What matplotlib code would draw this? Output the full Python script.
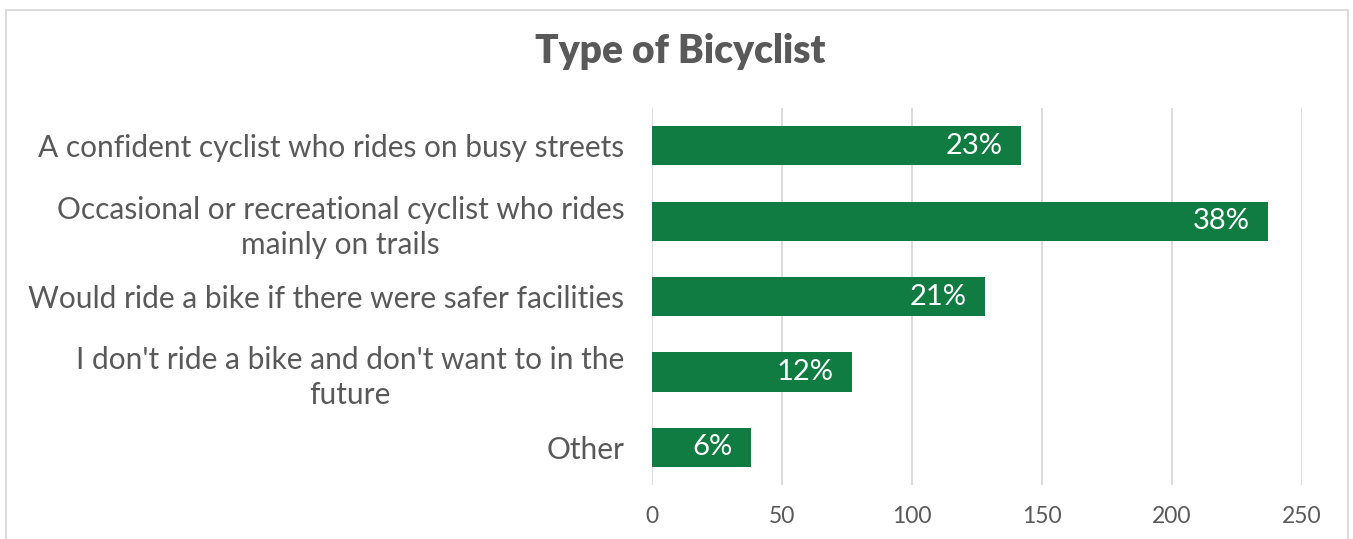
import matplotlib.pyplot as plt
from matplotlib.patches import Rectangle

plt.rcParams['font.family'] = ['Lato', 'DejaVu Sans']

categories = [
    "A confident cyclist who rides on busy streets",
    "Occasional or recreational cyclist who rides\nmainly on trails",
    "Would ride a bike if there were safer facilities",
    "I don't ride a bike and don't want to in the\nfuture",
    "Other",
]
counts = [142, 237, 128, 77, 38]
pct_labels = ["23%", "38%", "21%", "12%", "6%"]
xticks = [0, 50, 100, 150, 200, 250]

green = '#107C41'
grey = '#595959'

fig = plt.figure(figsize=(13.53, 5.39), dpi=100)
ax = fig.add_axes([0.4819, 0.1002, 0.4804, 0.6994])

ypos = list(range(len(categories)))
bars = ax.barh(ypos, counts, height=0.52, color=green, zorder=3)
for b, lab in zip(bars, pct_labels):
    ax.text(b.get_width() - 7, b.get_y() + b.get_height() / 2, lab,
            ha='right', va='center', color='white', fontsize=21, zorder=4)

ax.set_yticks(ypos)
ax.set_yticklabels(categories)
for t in ax.get_yticklabels():
    t.set_multialignment('center')
    t.set_linespacing(1.3)
ax.set_ylim(len(categories) - 0.5, -0.5)
ax.set_xlim(0, 250)
ax.set_xticks(xticks)
ax.tick_params(axis='y', length=0, pad=20, labelsize=21.5, labelcolor=grey)
ax.tick_params(axis='x', length=0, pad=15, labelsize=16.5, labelcolor=grey)
ax.grid(axis='x', color='#d9d9d9', linewidth=1.3, zorder=0)
for s in ax.spines.values():
    s.set_visible(False)

fig.text(0.503, 0.905, "Type of Bicyclist", ha='center', va='center',
         fontsize=28, fontweight='heavy', color=grey)

fig.patches.append(Rectangle((6 / 1353, -0.1), 1342 / 1353, 1.1 - 10 / 539,
                             transform=fig.transFigure, fill=False,
                             edgecolor='#d9d9d9', linewidth=1.3))

fig.savefig('out.png', dpi=100)
